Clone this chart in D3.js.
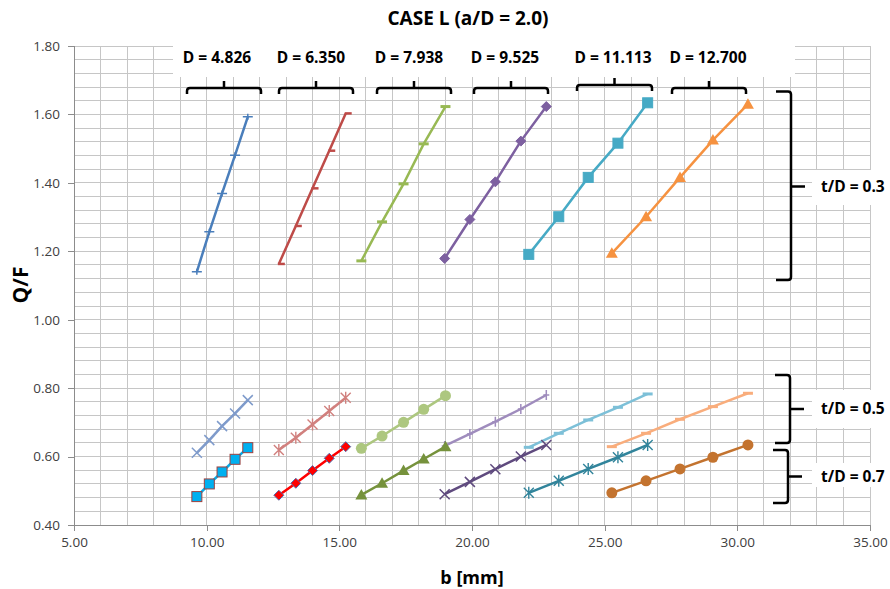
<!DOCTYPE html>
<html><head><meta charset="utf-8">
<script src="https://cdn.jsdelivr.net/npm/d3@7"></script>
<style>body{margin:0;background:#fff}svg{display:block}text{font-family:"Open Sans",Lato,sans-serif}</style>
</head><body><svg id="c" width="890" height="589"></svg>
<script>
// ---- data ----
const dLabels = ["D = 4.826","D = 6.350","D = 7.938","D = 9.525","D = 11.113","D = 12.700"];
const tdLabels = ["t/D = 0.3","t/D = 0.5","t/D = 0.7"];
const xTicks = [5,10,15,20,25,30,35];
const yTicks = [0.4,0.6,0.8,1.0,1.2,1.4,1.6,1.8];
// b [mm] per D group
const bD1 = [9.63,10.10,10.58,11.07,11.55];
const bD2 = [12.72,13.36,13.99,14.62,15.24];
const bD3 = [15.83,16.61,17.42,18.18,19.00];
const bD4 = [18.97,19.92,20.88,21.84,22.80];
const bD5 = [22.14,23.27,24.38,25.50,26.62];
const bD6 = [25.27,26.56,27.84,29.08,30.40];
// Q/F, t/D = 0.3
const q03D1 = [1.140,1.257,1.369,1.481,1.593];
const q03D2 = [1.163,1.274,1.384,1.494,1.603];
const q03D3 = [1.172,1.286,1.397,1.514,1.623];
const q03D4 = [1.179,1.293,1.403,1.522,1.623];
const q03D5 = [1.191,1.301,1.416,1.516,1.634];
const q03D6 = [1.194,1.301,1.416,1.525,1.630];
// Q/F, t/D = 0.5
const q05D1 = [0.611,0.648,0.689,0.726,0.765];
const q05D2 = [0.619,0.655,0.694,0.733,0.772];
const q05D3 = [0.624,0.660,0.700,0.738,0.778];
const q05D4 = [0.631,0.666,0.702,0.739,0.780];
const q05D5 = [0.627,0.668,0.707,0.744,0.783];
const q05D6 = [0.629,0.668,0.709,0.746,0.785];
// Q/F, t/D = 0.7
const q07D1 = [0.483,0.520,0.555,0.592,0.626];
const q07D2 = [0.487,0.522,0.559,0.595,0.629];
const q07D3 = [0.488,0.522,0.559,0.593,0.629];
const q07D4 = [0.490,0.526,0.563,0.600,0.634];
const q07D5 = [0.494,0.529,0.564,0.598,0.634];
const q07D6 = [0.494,0.529,0.564,0.598,0.634];

const series = [
  {x:bD1,y:q03D1,color:"#4A7EBB",marker:"plus"},
  {x:bD2,y:q03D2,color:"#BE4B48",marker:"dashR"},
  {x:bD3,y:q03D3,color:"#98B954",marker:"dash"},
  {x:bD4,y:q03D4,color:"#7D60A0",marker:"diamond"},
  {x:bD5,y:q03D5,color:"#46AAC5",marker:"square"},
  {x:bD6,y:q03D6,color:"#F69240",marker:"triangle"},
  {x:bD1,y:q05D1,color:"#7F9BCB",marker:"cross"},
  {x:bD2,y:q05D2,color:"#D1807E",marker:"star"},
  {x:bD3,y:q05D3,color:"#ADC77F",marker:"circle"},
  {x:bD4,y:q05D4,color:"#9F8CBD",marker:"vplus"},
  {x:bD5,y:q05D5,color:"#7DC0D8",marker:"dash"},
  {x:bD6,y:q05D6,color:"#F9AD7C",marker:"dash"},
  {x:bD1,y:q07D1,color:"#00B0F0",marker:"square",stroke:"#A0413E"},
  {x:bD2,y:q07D2,color:"#FF0000",marker:"diamond",stroke:"#4F6FB0"},
  {x:bD3,y:q07D3,color:"#76923C",marker:"triangle"},
  {x:bD4,y:q07D4,color:"#5F4A7E",marker:"cross"},
  {x:bD5,y:q07D5,color:"#31849B",marker:"star"},
  {x:bD6,y:q07D6,color:"#C3732F",marker:"circle"}
];

// ---- layout ----
const svg = d3.select("#c");
const L=74, R=870, T=46, B=525;
const x = d3.scaleLinear().domain([5,35]).range([L,R]);
const y = d3.scaleLinear().domain([0.4,1.8]).range([B,T]);

// grid
const g = svg.append("g");
g.selectAll(".vg").data(d3.range(5,36,1)).join("line")
  .attr("x1",d=>x(d)).attr("x2",d=>x(d)).attr("y1",T).attr("y2",B)
  .attr("stroke","#c6c6c6").attr("stroke-width",1).attr("shape-rendering","crispEdges");
g.selectAll(".hg").data(d3.range(0,36).map(i=>0.4+i*0.04)).join("line")
  .attr("x1",L).attr("x2",R).attr("y1",d=>y(d)).attr("y2",d=>y(d))
  .attr("stroke","#c6c6c6").attr("stroke-width",1).attr("shape-rendering","crispEdges");

// axes
const xa = svg.append("g").attr("transform",`translate(0,${B})`)
  .call(d3.axisBottom(x).tickValues(xTicks).tickFormat(d3.format(".2f")).tickSize(6).tickPadding(6));
const ya = svg.append("g").attr("transform",`translate(${L},0)`)
  .call(d3.axisLeft(y).tickValues(yTicks).tickFormat(d3.format(".2f")).tickSize(6).tickPadding(8));
[xa,ya].forEach(a=>{
  a.select(".domain").attr("stroke","#8c8c8c").attr("shape-rendering","crispEdges");
  a.selectAll(".tick line").attr("stroke","#8c8c8c").attr("shape-rendering","crispEdges");
  a.selectAll("text").attr("font-size",13.5).attr("fill","#404040").attr("font-family","Lato,sans-serif");
});

// white annotation boxes
svg.append("rect").attr("x",173).attr("y",43).attr("width",622).attr("height",34).attr("fill","#fff");
svg.append("rect").attr("x",812).attr("y",170).attr("width",78).attr("height",35).attr("fill","#fff");
svg.append("rect").attr("x",812).attr("y",390).attr("width",78).attr("height",38).attr("fill","#fff");
svg.append("rect").attr("x",812).attr("y",463).attr("width",78).attr("height",24).attr("fill","#fff");

// series
const line = d3.line().x(d=>x(d[0])).y(d=>y(d[1]));
function marker(sel, type, c, s){
  const st = s||c;
  switch(type){
    case "plus": sel.append("path").attr("d","M-5,0H5M0,-3V3").attr("stroke",c).attr("stroke-width",1.5).attr("fill","none"); break;
    case "vplus": sel.append("path").attr("d","M-3,0H3M0,-5V5").attr("stroke",c).attr("stroke-width",1.5).attr("fill","none"); break;
    case "dash": sel.append("path").attr("d","M-5,0H5").attr("stroke",c).attr("stroke-width",3).attr("fill","none"); break;
    case "dashR": sel.append("path").attr("d","M-1,0H6").attr("stroke",c).attr("stroke-width",2.5).attr("fill","none"); break;
    case "cross": sel.append("path").attr("d","M-5,-5L5,5M-5,5L5,-5").attr("stroke",c).attr("stroke-width",1.5).attr("fill","none"); break;
    case "star": sel.append("path").attr("d","M-5,-5L5,5M-5,5L5,-5M0,-6V6").attr("stroke",c).attr("stroke-width",1.4).attr("fill","none"); break;
    case "circle": sel.append("circle").attr("r",5.5).attr("fill",c); break;
    case "square": sel.append("rect").attr("x",-5).attr("y",-5).attr("width",10).attr("height",10).attr("fill",c).attr("stroke",st).attr("stroke-width",1); break;
    case "diamond": sel.append("path").attr("d","M0,-5L5,0L0,5L-5,0Z").attr("fill",c).attr("stroke",st).attr("stroke-width",1); break;
    case "triangle": sel.append("path").attr("d","M0,-6L6,4.5H-6Z").attr("fill",c); break;
  }
}
series.forEach(s=>{
  const pts = s.x.map((b,i)=>[b,s.y[i]]);
  svg.append("path").datum(pts).attr("d",line).attr("fill","none")
    .attr("stroke",s.color).attr("stroke-width",2.5);
  svg.append("g").selectAll("g").data(pts).join("g")
    .attr("transform",d=>`translate(${x(d[0])},${y(d[1])})`)
    .each(function(){ marker(d3.select(this), s.marker, s.color, s.stroke); });
});

// top labels + braces
const topLab = [[217,187,261,88],[311,279,353,88],[409,377,451,88],[505,474,548,88],[613,577,652,85],[708,672,746,88]];
dLabels.forEach((t,i)=>{
  const [cx,x0,x1,yy] = topLab[i];
  svg.append("text").attr("x",cx).attr("y",63).attr("text-anchor","middle")
    .attr("font-size",15.5).attr("font-weight","bold").attr("fill","#000").text(t);
  const xm=(x0+x1)/2, r=3;
  svg.append("path").attr("fill","none").attr("stroke","#000").attr("stroke-width",2.5)
    .attr("d",`M${x0},${yy+6}V${yy+r}Q${x0},${yy} ${x0+r},${yy}H${x1-r}Q${x1},${yy} ${x1},${yy+r}V${yy+6}M${xm},${yy}V${yy-7}`);
});
// right labels + braces
const rightLab = [[91.5,280,186.5,791,776,805],[375,443,409,790,775,804],[450,503,476.5,788,773,802]];
tdLabels.forEach((t,i)=>{
  const [y0,y1,ym,xl,xe,xt] = rightLab[i];
  const r=3;
  svg.append("path").attr("fill","none").attr("stroke","#000").attr("stroke-width",2.5)
    .attr("d",`M${xe},${y0}H${xl-r}Q${xl},${y0} ${xl},${y0+r}V${y1-r}Q${xl},${y1} ${xl-r},${y1}H${xe}M${xl},${ym}H${xt}`);
  svg.append("text").attr("x",821).attr("y",ym+5).attr("font-size",15.5).attr("font-weight","bold").attr("fill","#000").text(t);
});

// titles
svg.append("text").attr("x",468).attr("y",25).attr("text-anchor","middle").attr("font-size",19).attr("font-weight","bold").text("CASE L (a/D = 2.0)");
svg.append("text").attr("x",472).attr("y",584).attr("text-anchor","middle").attr("font-size",18).attr("font-weight","bold").text("b [mm]");
svg.append("text").attr("transform","translate(28,285) rotate(-90)").attr("text-anchor","middle").attr("font-size",21).attr("font-weight","bold").text("Q/F");
</script></body></html>
